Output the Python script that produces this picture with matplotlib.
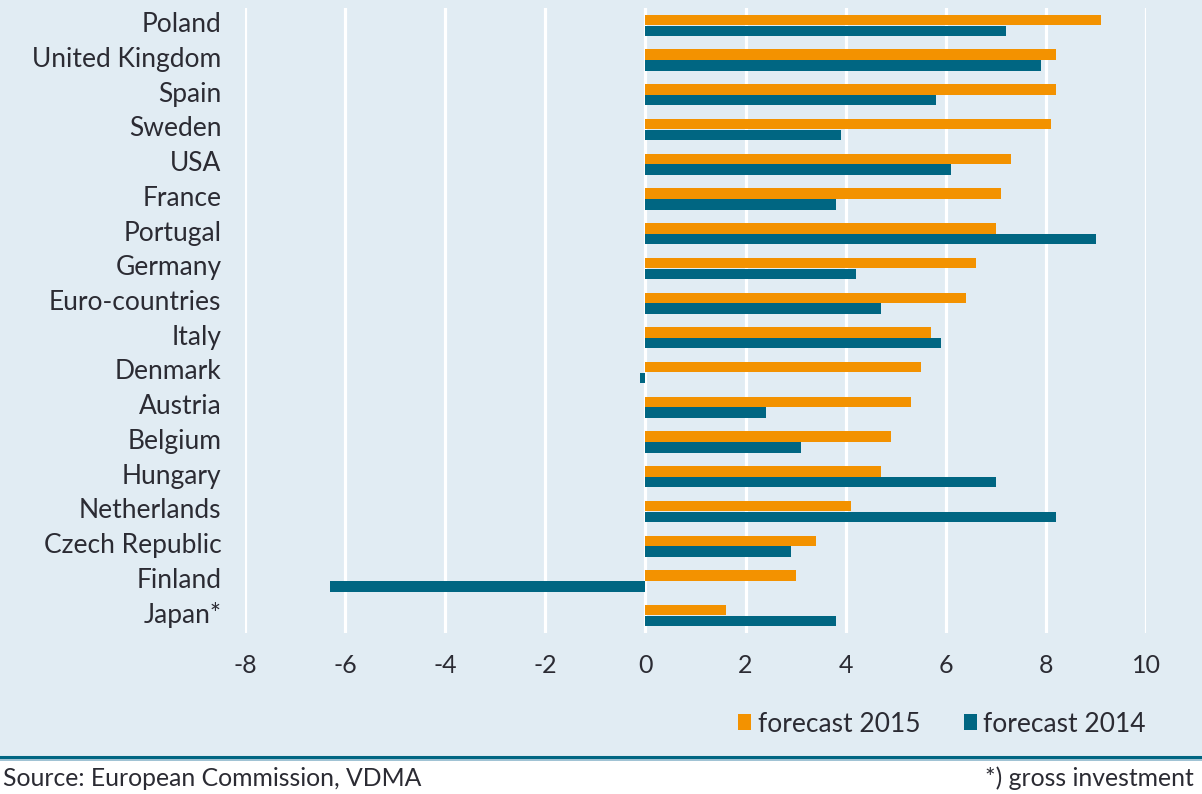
import matplotlib.pyplot as plt
from matplotlib.patches import Rectangle
from matplotlib.lines import Line2D
import numpy as np

countries = ['Poland', 'United Kingdom', 'Spain', 'Sweden', 'USA', 'France',
             'Portugal', 'Germany', 'Euro-countries', 'Italy', 'Denmark',
             'Austria', 'Belgium', 'Hungary', 'Netherlands', 'Czech Republic',
             'Finland', 'Japan*']
forecast_2015 = [9.1, 8.2, 8.2, 8.1, 7.3, 7.1, 7.0, 6.6, 6.4, 5.7, 5.5,
                 5.3, 4.9, 4.7, 4.1, 3.4, 3.0, 1.6]
forecast_2014 = [7.2, 7.9, 5.8, 3.9, 6.1, 3.8, 9.0, 4.2, 4.7, 5.9, -0.1,
                 2.4, 3.1, 7.0, 8.2, 2.9, -6.3, 3.8]
xticks = [-8, -6, -4, -2, 0, 2, 4, 6, 8, 10]

orange = '#f39200'
teal = '#006682'
bg = '#e1ecf3'
txt = '#2b2b33'
font = 'Lato'

W, H = 1202, 794
fig = plt.figure(figsize=(W / 100, H / 100), dpi=100, facecolor='white')

# light blue panel above the footer line
fig.patches.append(Rectangle((0, (H - 757) / H), 1, 757 / H, transform=fig.transFigure,
                             facecolor=bg, edgecolor='none', zorder=-5))
fig.lines.append(Line2D([0, 1], [(H - 756.5) / H] * 2, transform=fig.transFigure,
                        color=teal, lw=2.2, zorder=1))
fig.lines.append(Line2D([0, 1], [(H - 759.5) / H] * 2, transform=fig.transFigure,
                        color='#8fb8cc', lw=1.2, zorder=1))

ax = fig.add_axes([245 / W, (H - 633) / H, 901 / W, 625 / H])
ax.set_zorder(2)
ax.set_facecolor('none')

y = np.arange(len(countries))
ax.barh(y - 0.155, forecast_2015, height=0.3, color=orange, zorder=3, label='forecast 2015')
ax.barh(y + 0.155, forecast_2014, height=0.3, color=teal, zorder=3, label='forecast 2014')

ax.set_xlim(-8, 10)
ax.set_ylim(len(countries) - 0.5, -0.5)
ax.set_xticks(xticks)
ax.set_xticklabels([str(v) for v in xticks], fontsize=18, color=txt, family=font)
# labels sit slightly above the middle of each bar pair
ax.set_yticks(y - 0.09)
ax.set_yticklabels(countries, fontsize=19, color=txt, family=font)
ax.tick_params(length=0)
ax.tick_params(axis='y', pad=17)
ax.tick_params(axis='x', pad=15)
for s in ax.spines.values():
    s.set_visible(False)
ax.grid(axis='x', color='white', lw=2.3, zorder=1)
ax.set_axisbelow(True)

leg = fig.legend(loc='center right', bbox_to_anchor=(1146 / W, (H - 724) / H),
                 ncol=2, frameon=False, handlelength=0.5, handleheight=0.55,
                 handletextpad=0.25, columnspacing=1.65, borderpad=0, borderaxespad=0,
                 prop={'family': font, 'size': 19})
for t in leg.get_texts():
    t.set_color(txt)

fig.text(3 / W, (H - 778) / H, 'Source: European Commission, VDMA', ha='left', va='center',
         fontsize=17.8, color=txt, family=font)
fig.text(1194 / W, (H - 778) / H, '*) gross investment', ha='right', va='center',
         fontsize=17.8, color=txt, family=font)

fig.savefig('out.png', dpi=100, facecolor='white')
